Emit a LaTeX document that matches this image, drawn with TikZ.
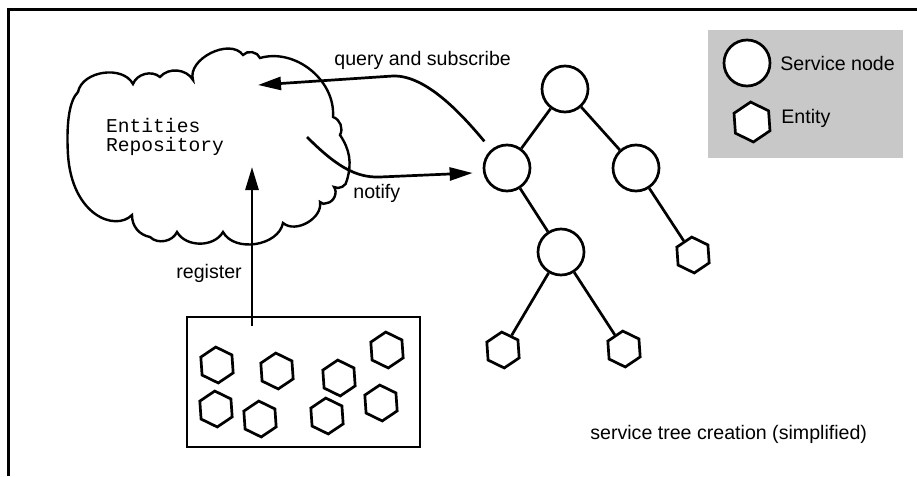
\documentclass[tikz,border=0pt]{standalone}
\usepackage{fontspec}
\setmainfont{Liberation Sans}
\setmonofont{Liberation Mono}
\usetikzlibrary{arrows.meta,shapes.geometric}
\definecolor{legendgray}{RGB}{200,200,200}

\begin{document}
\begin{tikzpicture}[x=1pt, y=-1pt, line width=2.7pt,
    txt/.style={font=\fontsize{19.6}{22}\selectfont, inner sep=0pt},
    snode/.style={circle, draw, fill=white, minimum size=46pt, inner sep=0pt},
    entity/.style={regular polygon, regular polygon sides=6, shape border rotate=34, draw, fill=white, minimum size=36pt, inner sep=0pt},
    arr/.style={-{Triangle[length=23pt, width=13pt]}}]

            \useasboundingbox (0,0) rectangle (917,476);
            % Frame
            \draw[line width=3pt] (8,476) -- (8,10) -- (917,10);
            % Define repository cloud
            \draw[line width=2.4pt] (78,92) to[bend left=70] (133,84) to[bend left=55] (160,77) to[bend left=55] (193,80)
                to[bend left=80] (243,55) to[bend left=60] (260,58) to[bend left=55] (333,117)
                to[bend left=50] (340,135) to[bend left=25] (347,180) to[bend left=60] (334,187)
                to[bend left=60] (327,203) to[bend left=40] (320,202) to[bend left=70] (283,223)
                to[bend left=70] (223,232) to[bend left=60] (177,232) to[bend left=55] (150,237)
                to[bend left=40] (132,215) .. controls (115,232) and (72,215) .. (68,155)
                .. controls (66,120) and (70,100) .. (78,92) -- cycle;
            \node[font=\fontsize{19.6}{19.6}\selectfont\ttfamily, align=left, inner sep=0pt] (repo) at (165,137) {Entities\\Repository};
            \coordinate (qtip) at (258,85);
            \coordinate (ntail) at (307,137);
            \coordinate (rtip) at (252,167);
            % Define service tree
            \node[snode] (R) at (565,89) {};
            \node[snode] (A) at (507,168) {};
            \node[snode] (B) at (636,168) {};
            \node[snode] (C) at (561,252) {};
            \node[entity] (e1) at (693,255) {};
            \node[entity] (e2) at (503,350) {};
            \node[entity] (e3) at (624,349) {};
            % Draw tree edges
            \draw (R) -- (A);
            \draw (R) -- (B);
            \draw (A) -- (C);
            \draw (B) -- (e1);
            \draw (C) -- (e2);
            \draw (C) -- (e3);
            % Define entity pool
            \node[draw, minimum width=233pt, minimum height=130pt, inner sep=0pt] (pool) at (303.5,382) {};
            \node[entity] (p1) at (217,365) {};
            \node[entity] (p2) at (277,371) {};
            \node[entity] (p3) at (339,378) {};
            \node[entity] (p4) at (387,350) {};
            \node[entity] (p5) at (216,409) {};
            \node[entity] (p6) at (260,419) {};
            \node[entity] (p7) at (327,416) {};
            \node[entity] (p8) at (381,403) {};
            % Draw arrows
            \draw[arr] ([xshift=-7pt,yshift=8pt]A.130) .. controls (460,112) and (425,75) .. (393,76) -- (qtip);
            \draw[arr] (ntail) .. controls (335,165) and (355,178) .. (380,177) -- ([xshift=-10pt,yshift=-5pt]A.west);
            \draw[arr] ([xshift=-51.5pt,yshift=-10pt]pool.north) -- (rtip);
            \node[txt, anchor=base west] (qlabel) at (333,66) {query and subscribe};
            \node[txt, anchor=base west] (nlabel) at (352,198) {notify};
            \node[txt, anchor=base west] (rlabel) at (175,278) {register};
            \node[txt, anchor=base west] (caption) at (589,439) {service tree creation (simplified)};
            % Define legend
            \node[fill=legendgray, minimum width=195pt, minimum height=128pt, inner sep=0pt] (legend) at (805.5,94) {};
            \node[snode] (lsnode) at (747,63) {};
            \node[txt, anchor=base west] (lstext) at (779,71) {Service node};
            \node[entity, minimum size=40pt] (lentity) at (752,122) {};
            \node[txt, anchor=base west] (letext) at (780,123) {Entity};
        \end{tikzpicture}
\end{document}
